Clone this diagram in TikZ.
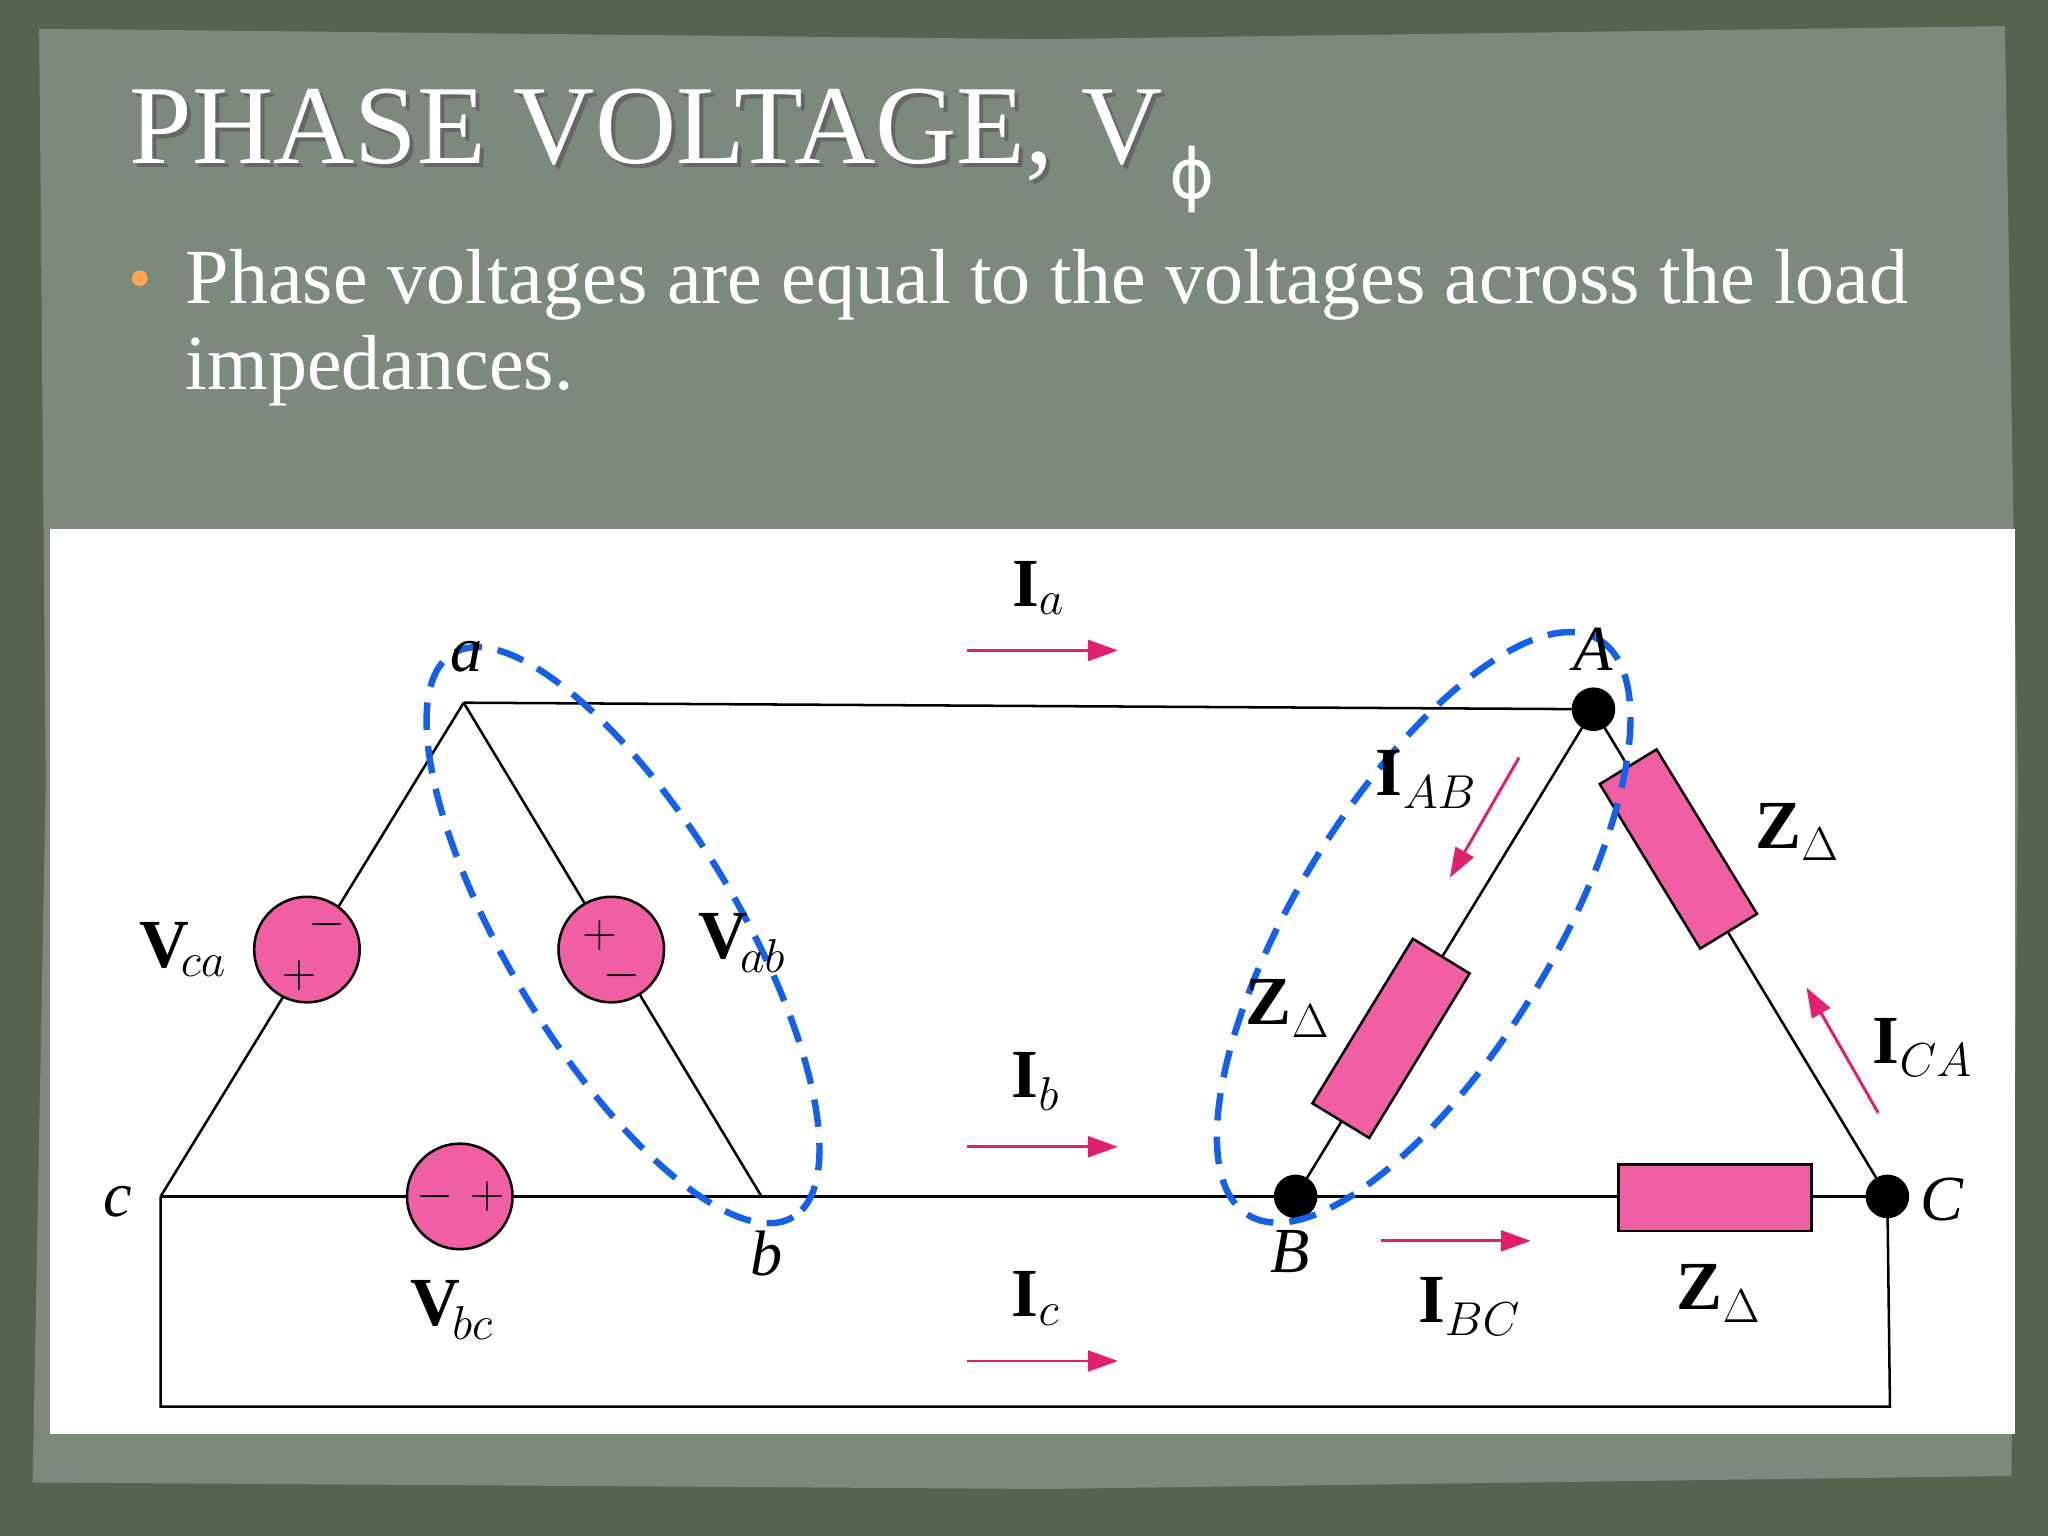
\documentclass[tikz,border=0pt]{standalone}
\usepackage{fontspec}
\setmainfont{Liberation Serif}
\newfontfamily\symf{DejaVu Sans}
\usetikzlibrary{arrows.meta}
\definecolor{outerg}{HTML}{56634F}
\definecolor{innerg}{HTML}{7C8A7E}
\definecolor{pinkf}{HTML}{F05FA3}
\definecolor{arr}{HTML}{E0206F}
\definecolor{dashb}{HTML}{1560E8}
\tikzset{
  wire/.style={line width=1.1pt},
  src/.style={circle,draw,line width=1.1pt,fill=pinkf,minimum size=46pt,inner sep=0pt},
  res/.style={rectangle,draw,line width=1.1pt,fill=pinkf,minimum width=84pt,minimum height=29pt,inner sep=0pt},
  dot/.style={circle,fill=black,minimum size=19pt,inner sep=0pt},
  lab/.style={font=\fontsize{28}{30}\selectfont\itshape,inner sep=0pt},
  vl/.style={font=\fontsize{30}{32}\selectfont,inner sep=0pt},
  curarr/.style={draw=arr,line width=1.3pt,-{Triangle[length=13pt,width=9pt]}},
  ell/.style={draw=dashb,line width=2.8pt,dash pattern=on 12pt off 7pt},
  sgn/.style={font=\fontsize{22}{22}\selectfont\bfseries,inner sep=0pt}
}
\begin{document}
\begin{tikzpicture}[x=0.02cm,y=-0.02cm]
\useasboundingbox (0,0) rectangle (1568,1176);
\fill[outerg] (0,0) rectangle (1568,1176);
\fill[innerg] (30,22) -- (800,30) -- (1535,20) -- (1545,600) -- (1540,1130) -- (800,1140) -- (25,1135) -- (35,600) -- cycle;
\fill[white] (38,405) rectangle (1543,1098);
% title
\node[anchor=base west,inner sep=0pt,text=black!60,font=\fontsize{49}{54}\selectfont] at (102,128) {PHASE VOLTAGE, V};
\node[anchor=base west,inner sep=0pt,text=white,font=\fontsize{49}{54}\selectfont] (title) at (99,125) {PHASE VOLTAGE, V};
\node[anchor=base west,inner sep=0pt,text=white,font=\symf\fontsize{30}{30}\selectfont] (phi) at (895,152) {ϕ};
\fill[orange!70] (107,213) circle (6);
\node[anchor=base west,inner sep=0pt,text=white,font=\fontsize{34}{38}\selectfont] (l1) at (142,232) {Phase voltages are equal to the voltages across the load};
\node[anchor=base west,inner sep=0pt,text=white,font=\fontsize{34}{38}\selectfont] (l2) at (142,298) {impedances.};
% nodes
\coordinate (a) at (355,538);
\coordinate (b) at (583,916);
\coordinate (c) at (123,916);
\coordinate (A) at (1220,543);
\coordinate (B) at (992,916);
\coordinate (C) at (1445,916);
\coordinate (c2) at (123,1077);
\coordinate (C2) at (1447,1077);
\draw[wire] (a) -- (A);
\draw[wire] (A) -- (B);
\draw[wire] (A) -- (C);
\draw[wire] (a) -- (b);
\draw[wire] (a) -- (c);
\draw[wire] (c) -- (C);
\draw[wire] (c) -- (c2) -- (C2) -- (C);
% sources
\node[src] (sca) at (235,727) {};
\node[sgn] at (250,708) {$-$};
\node[sgn] at (229,747) {$+$};
\node[src] (sab) at (468,727) {};
\node[sgn] at (459,716) {$+$};
\node[sgn] at (476,747) {$-$};
\node[src] (sbc) at (352,916) {};
\node[sgn] at (333,916) {$-$};
\node[sgn] at (373,916) {$+$};
% resistors
\node[res,rotate=58.6] (rAB) at (1065,795) {};
\node[res,rotate=-58.6] (rCA) at (1285,650) {};
\node[res] (rBC) at (1313,917) {};
\node[dot] at (A) {};
\node[dot] at (B) {};
\node[dot] at (C) {};
% ellipses
\draw[ell,rotate around={-58.9:(477,716)}] (477,716) ellipse (252 and 88);
\draw[ell,rotate around={58.6:(1090,710)}] (1090,710) ellipse (258 and 98);
% labels
\node[lab] at (357,503) {a};
\node[lab] at (587,960) {b};
\node[lab] at (90,920) {c};
\node[lab] at (1220,497) {A};
\node[lab] at (988,958) {B};
\node[lab] at (1487,918) {C};
\node[vl] at (140,727) {$\mathbf{V}_{\!ca}$};
\node[vl] at (568,722) {$\mathbf{V}_{\!ab}$};
\node[vl] at (346,1003) {$\mathbf{V}_{\!bc}$};
\node[vl] at (795,450) {$\mathbf{I}_{a}$};
\node[vl] at (793,828) {$\mathbf{I}_{b}$};
\node[vl] at (793,994) {$\mathbf{I}_{c}$};
\node[vl] at (1092,597) {$\mathbf{I}_{AB}$};
\node[vl] at (1472,802) {$\mathbf{I}_{CA}$};
\node[vl] at (1125,1000) {$\mathbf{I}_{BC}$};
\node[vl] at (1376,637) {$\mathbf{Z}_{\Delta}$};
\node[vl] at (986,772) {$\mathbf{Z}_{\Delta}$};
\node[vl] at (1316,990) {$\mathbf{Z}_{\Delta}$};
% current arrows
\coordinate (ia1) at (740,498); \coordinate (ia2) at (856,498);
\coordinate (ib1) at (740,878); \coordinate (ib2) at (856,878);
\coordinate (ic1) at (740,1042); \coordinate (ic2) at (856,1042);
\coordinate (iab1) at (1163,580); \coordinate (iab2) at (1110,672);
\coordinate (ica1) at (1438,852); \coordinate (ica2) at (1383,756);
\coordinate (ibc1) at (1057,950); \coordinate (ibc2) at (1172,950);
\draw[curarr] (ia1) -- (ia2);
\draw[curarr] (ib1) -- (ib2);
\draw[curarr] (ic1) -- (ic2);
\draw[curarr] (iab1) -- (iab2);
\draw[curarr] (ica1) -- (ica2);
\draw[curarr] (ibc1) -- (ibc2);
\end{tikzpicture}
\end{document}
